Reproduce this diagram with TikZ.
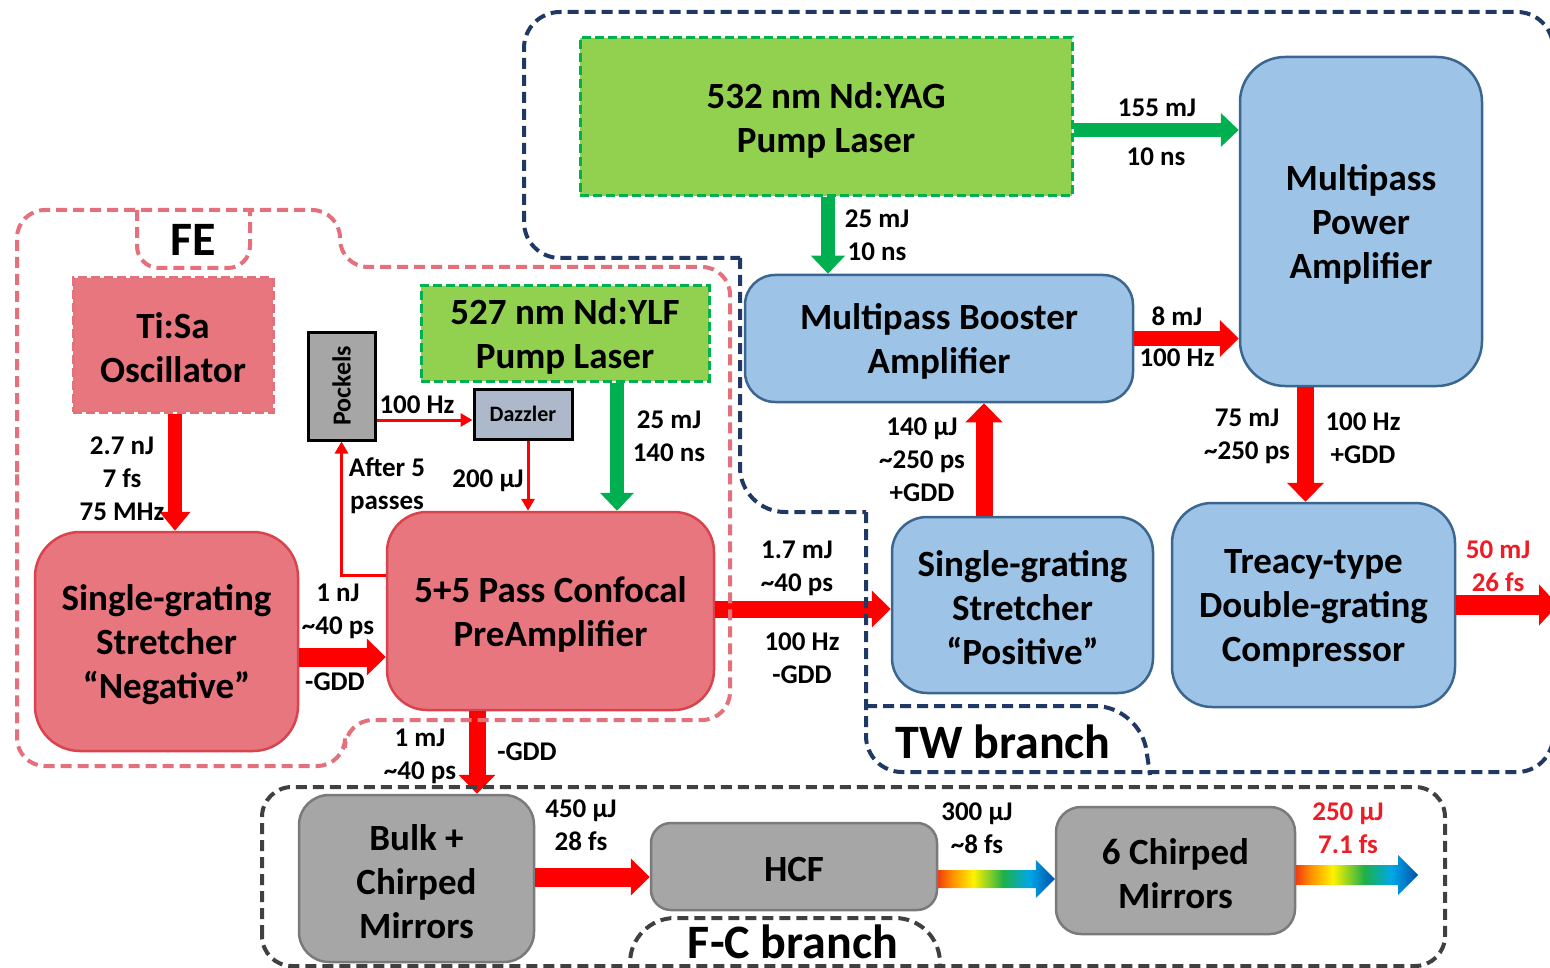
\documentclass[tikz,border=0pt]{standalone}
\usepackage{fontspec}
\setmainfont{Carlito}
\usetikzlibrary{arrows.meta,calc}

\definecolor{pinkfill}{HTML}{E8767E}
\definecolor{pinkline}{HTML}{D9434E}
\definecolor{pinkdash}{HTML}{E3707A}
\definecolor{bluefill}{HTML}{9DC3E6}
\definecolor{blueline}{HTML}{3A6690}
\definecolor{greenfill}{HTML}{92D050}
\definecolor{greenline}{HTML}{00B050}
\definecolor{grayfill}{HTML}{A6A6A6}
\definecolor{grayline}{HTML}{7A7A7A}
\definecolor{dazzfill}{HTML}{ADB9CA}
\definecolor{arrred}{HTML}{FF0000}
\definecolor{arrgreen}{HTML}{00B050}
\definecolor{navy}{HTML}{1F3864}
\definecolor{fcgray}{HTML}{404040}
\definecolor{outred}{HTML}{EE1C25}
\definecolor{rbred}{HTML}{F0400F}
\definecolor{rborange}{HTML}{FF9000}
\definecolor{rbyellow}{HTML}{FFF200}
\definecolor{rbgreen}{HTML}{1DB04A}
\definecolor{rbcyan}{HTML}{00A8E8}
\definecolor{rbblue}{HTML}{0050A8}

% spectrum used for the few-cycle beams (visible part is 25bp..75bp)
\pgfdeclarehorizontalshading{rainbow}{100bp}{color(0bp)=(rbred); color(25bp)=(rbred);
  color(31bp)=(rborange); color(40bp)=(rbyellow); color(53bp)=(rbgreen);
  color(64bp)=(rbcyan); color(75bp)=(rbblue); color(100bp)=(rbblue)}

\newcommand\boxfont{\fontsize{37}{44}\selectfont\bfseries}
\newcommand\lblfont{\fontsize{27}{33}\selectfont\bfseries}
\newcommand\regfont{\fontsize{48}{52}\selectfont\bfseries}

\tikzset{
  box/.style={inner sep=0pt, line width=2.5pt},
  boxtext/.style={font=\boxfont, align=center, inner sep=0pt, yshift=-3pt},
  txt/.style={label={[boxtext]center:{#1}}},
  sz/.style 2 args={minimum width=#1, minimum height=#2},
  pinkbox/.style={box, fill=pinkfill, draw=pinkline, rounded corners=40pt},
  tisabox/.style={box, fill=pinkfill, draw=pinkdash, line width=3pt, dash pattern=on 9pt off 4pt},
  bluebox/.style={box, fill=bluefill, draw=blueline, rounded corners=35pt},
  pumpbox/.style={box, fill=greenfill, draw=greenline, line width=3pt, dash pattern=on 9pt off 4pt},
  graybox/.style={box, fill=grayfill, draw=grayline, rounded corners=25pt},
  smallbox/.style={inner sep=0pt, draw=black, line width=3pt},
  lbl/.style={font=\lblfont, align=center, inner sep=0pt},
  redlbl/.style={lbl, text=outred},
  reglbl/.style={font=\regfont, inner sep=0pt},
  redbig/.style={draw=arrred, line width=17pt, -{Triangle[width=36pt,length=19pt]}},
  greenbig/.style={draw=arrgreen, line width=14pt, -{Triangle[width=33pt,length=18pt]}},
  redthin/.style={draw=arrred, line width=3pt, -{Triangle[width=13pt,length=12pt]}},
  fedash/.style={draw=pinkdash, line width=4pt, dash pattern=on 11pt off 6pt},
  twdash/.style={draw=navy, line width=4pt, dash pattern=on 11pt off 6pt},
  fcdash/.style={draw=fcgray, line width=4pt, dash pattern=on 11pt off 6pt},
}

\begin{document}
\begin{tikzpicture}[x=1pt,y=-1pt]
\useasboundingbox (0,0) rectangle (1550,968);
\fill[white] (0,0) rectangle (1550,968);

% ---------------- blocks ----------------
\node[pumpbox, sz={492pt}{158pt}, txt={532 nm Nd:YAG\\Pump Laser}] (yag) at (826,117) {};
\node[bluebox, sz={242pt}{329pt}, rounded corners=45pt, txt={Multipass\\Power\\Amplifier}] (power) at (1361,221.5) {};
\node[bluebox, sz={388pt}{127pt}, rounded corners=30pt, txt={Multipass Booster\\Amplifier}] (booster) at (939,338.5) {};
\node[bluebox, sz={261pt}{176pt}, txt={Single-grating\\Stretcher\\“Positive”}] (spos) at (1022.5,605) {};
\node[bluebox, sz={283pt}{204pt}, rounded corners=40pt, txt={Treacy-type\\Double-grating\\Compressor}] (treacy) at (1313.5,605) {};

\node[tisabox, sz={200pt}{134pt}, txt={Ti:Sa\\Oscillator}] (tisa) at (173,345) {};
\node[pinkbox, sz={263pt}{219pt}, rounded corners=45pt, txt={Single-grating\\Stretcher\\“Negative”}] (sneg) at (166.5,641.5) {};
\node[pinkbox, sz={327pt}{198pt}, txt={5+5 Pass Confocal\\PreAmplifier}] (pre) at (550.5,611) {};
\node[pumpbox, sz={288pt}{95pt}, txt={527 nm Nd:YLF\\Pump Laser}] (ylf) at (565,333.5) {};
\node[smallbox, fill=grayfill, sz={67pt}{108pt}] (pockels) at (341.5,386) {};
\node[rotate=90, font=\fontsize{26}{30}\selectfont\bfseries, inner sep=0pt] at (pockels.center) {Pockels};
\node[smallbox, fill=dazzfill, sz={98pt}{50pt}, font=\fontsize{22}{26}\selectfont\bfseries] (dazzler) at (523,414) {Dazzler};

\node[graybox, sz={235pt}{167pt}, rounded corners=30pt, txt={Bulk +\\Chirped\\Mirrors}] (bulk) at (416.5,878.5) {};
\node[graybox, sz={286pt}{87pt}, rounded corners=20pt, txt={HCF}] (hcf) at (794,866.5) {};
\node[graybox, sz={239pt}{127pt}, txt={6 Chirped\\Mirrors}] (six) at (1175.5,870.5) {};

% ---------------- beams ----------------
\coordinate (a1) at ([xshift=2pt]tisa.south);
\draw[redbig, line width=14pt, -{Triangle[width=30pt,length=19pt]}] (a1) -- (a1 |- sneg.north);

\coordinate (c1) at ([yshift=-15.5pt]sneg.east);
\draw[redbig, line width=19pt] (c1) -- (c1 -| pre.west);

\coordinate (c2) at ([yshift=2pt]pre.east);
\draw[redbig] (c2) -- (c2 -| spos.west);

\coordinate (c3) at ([xshift=-73.5pt]pre.south);
\draw[redbig] (c3) -- (c3 |- bulk.north);

\coordinate (c4) at ([xshift=-38.5pt]spos.north);
\draw[redbig] (c4) -- (c4 |- booster.south);

\draw[redbig, line width=15pt] (booster.east) -- (booster.east -| power.west);

\coordinate (c5) at ([xshift=-55.5pt]power.south);
\draw[redbig] (c5) -- (c5 |- treacy.north);

\coordinate (out1) at (1558,605);
\draw[redbig, line width=20pt, -{Triangle[width=40pt,length=19pt]}] (treacy.east) -- (out1);

\coordinate (c6) at ([yshift=1.5pt]bulk.east);
\draw[redbig, line width=19pt] (c6) -- (c6 -| hcf.west);

\coordinate (g1) at ([yshift=-13pt]yag.east);
\draw[greenbig] (g1) -- (g1 -| power.west);
\coordinate (g2) at ([xshift=2pt]yag.south);
\draw[greenbig] (g2) -- (g2 |- booster.north);
\coordinate (g3) at ([xshift=52pt]ylf.south);
\draw[greenbig] (g3) -- (g3 |- pre.north);

% Pockels cell / Dazzler loop
\coordinate (t1) at ([yshift=36pt]pre.west);
\draw[redthin] (t1) -| (pockels.south);
\coordinate (t2) at ([yshift=-6pt]dazzler.west);
\draw[redthin] (t2 -| pockels.east) -- (t2);
\coordinate (t3) at ([xshift=5pt]dazzler.south);
\draw[redthin] (t3) -- (t3 |- pre.north);

% few-cycle output beams
\coordinate (r1) at ([yshift=-12.5pt]hcf.east);
\coordinate (r1e) at (r1 -| six.west);
\shade[shading=rainbow] ($(r1)+(0,-9)$) -- ($(r1e)+(-19,-9)$) -- ($(r1e)+(-19,-19)$) -- (r1e)
  -- ($(r1e)+(-19,19)$) -- ($(r1e)+(-19,9)$) -- ($(r1)+(0,9)$) -- cycle;
\coordinate (r2) at ([yshift=-4.5pt]six.east);
\coordinate (r2e) at (1418,875);
\shade[shading=rainbow] ($(r2)+(0,-10)$) -- ($(r2e)+(-20,-10)$) -- ($(r2e)+(-20,-20)$) -- (r2e)
  -- ($(r2e)+(-20,20)$) -- ($(r2e)+(-20,10)$) -- ($(r2)+(0,10)$) -- cycle;

% ---------------- beam parameters ----------------
\node[lbl] at (122,479) {2.7 nJ\\7 fs\\75 MHz};
\node[lbl] at (338,611) {1 nJ\\\textasciitilde40 ps};
\node[lbl] at (335,682) {-GDD};
\node[lbl] at (417,405) {100 Hz};
\node[lbl] at (387,486) {After 5\\passes};
\node[lbl] at (488,481) {200 µJ};
\node[lbl] at (669,436.5) {25 mJ\\140 ns};
\node[lbl] at (797,568.5) {1.7 mJ\\\textasciitilde40 ps};
\node[lbl] at (802,658.5) {100 Hz\\-GDD};
\node[lbl] at (420,756) {1 mJ\\\textasciitilde40 ps};
\node[lbl] at (527,752) {-GDD};
\node[lbl] at (877,235) {25 mJ\\10 ns};
\node[lbl] at (1157,108) {155 mJ};
\node[lbl] at (1156,157) {10 ns};
\node[lbl] at (1177,316) {8 mJ};
\node[lbl] at (1177,358) {100 Hz};
\node[lbl] at (922,460) {140 µJ\\\textasciitilde250 ps\\+GDD};
\node[lbl] at (1247,436.5) {75 mJ\\\textasciitilde250 ps};
\node[lbl] at (1363,438.5) {100 Hz\\+GDD};
\node[redlbl] at (1498,566.5) {50 mJ\\26 fs};
\node[lbl] at (581,825.5) {450 µJ\\28 fs};
\node[lbl] at (977,828.5) {300 µJ\\\textasciitilde8 fs};
\node[redlbl] at (1348,828.5) {250 µJ\\7.1 fs};

% ---------------- system regions ----------------
% front end
\draw[fedash, rounded corners=28pt] (17,500) -- (17,210) -- (340,210) -- (340,267) -- (730,267)
  -- (730,720) -- (345,720) -- (345,766) -- (17,766) -- cycle;
\draw[fedash, rounded corners=22pt] (137,210) -- (137,268) -- (250,268) -- (250,210);
\node[reglbl] (fe) at (193,240) {FE};

% TW branch
\draw[twdash, rounded corners=36pt] (866,512) -- (866,772) -- (1553,772) -- (1553,12) -- (524,12)
  -- (524,258) -- (740,258);
\draw[twdash, rounded corners=45pt] (740,258) -- (740,512) -- (866,512);
\draw[twdash, rounded corners=45pt] (866,706) -- (1140,706) -- (1150,775);
\node[reglbl] (tw) at (1003,742) {TW branch};

% few-cycle branch
\draw[fcdash, rounded corners=30pt] (262,966) rectangle (1445,787);
\draw[fcdash, rounded corners=45pt] (630,975) -- (630,918) -- (940,918) -- (940,975);
\node[reglbl] (fc) at (793,942) {F-C branch};
\end{tikzpicture}
\end{document}
